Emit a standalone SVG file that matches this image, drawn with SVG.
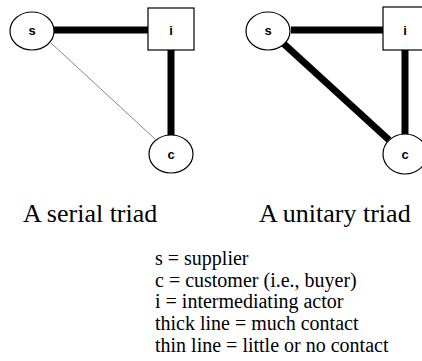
<svg xmlns="http://www.w3.org/2000/svg" width="422" height="361" viewBox="0 0 422 361">
  <style>
    .node { fill: #fff; stroke: #000; stroke-width: 1.2; }
    .lbl { font-family: "Liberation Sans", Arial, sans-serif; font-weight: bold; font-size: 13px; text-anchor: middle; fill: #000; }
    .thick { stroke: #000; stroke-width: 7; fill: none; }
    .thin { stroke: #888; stroke-width: 1; fill: none; }
    .cap { font-family: 'Liberation Serif', 'Times New Roman', 'DejaVu Serif', serif; font-size: 26px; fill: #000; }
    .key { font-family: 'Liberation Serif', 'Times New Roman', 'DejaVu Serif', serif; font-size: 20px; fill: #000; }
  </style>

  <!-- connectors -->
  <g id="connectors">
    <!-- serial triad -->
    <line class="thick" x1="54" y1="30" x2="148" y2="30"/>
    <line class="thick" x1="171" y1="50" x2="171" y2="136"/>
    <line class="thin" x1="51" y1="43" x2="155" y2="139"/>
    <!-- unitary triad -->
    <line class="thick" x1="291" y1="30" x2="383" y2="30"/>
    <line class="thick" x1="405" y1="50" x2="405" y2="135"/>
    <line class="thick" x1="284" y1="44" x2="389" y2="140"/>
  </g>

  <!-- serial triad nodes -->
  <g id="serial-s">
    <ellipse class="node" cx="32" cy="31" rx="22" ry="19"/>
    <text class="lbl" x="32" y="35">s</text>
  </g>
  <g id="serial-i">
    <rect class="node" x="148" y="8" width="46" height="42"/>
    <text class="lbl" x="171" y="35">i</text>
  </g>
  <g id="serial-c">
    <ellipse class="node" cx="171" cy="154" rx="22" ry="19"/>
    <text class="lbl" x="171" y="159">c</text>
  </g>

  <!-- unitary triad nodes -->
  <g id="unitary-s">
    <ellipse class="node" cx="268" cy="31" rx="22" ry="19"/>
    <text class="lbl" x="268" y="35">s</text>
  </g>
  <g id="unitary-i">
    <rect class="node" x="383" y="7" width="46" height="43"/>
    <text class="lbl" x="405" y="35">i</text>
  </g>
  <g id="unitary-c">
    <ellipse class="node" cx="405" cy="154" rx="22" ry="20"/>
    <text class="lbl" x="405" y="159">c</text>
  </g>

  <!-- captions -->
  <text class="cap" x="23" y="222">A serial triad</text>
  <text class="cap" x="259" y="222">A unitary triad</text>

  <!-- key -->
  <g id="key">
    <text class="key" x="155" y="265">s = supplier</text>
    <text class="key" x="155" y="287">c = customer (i.e., buyer)</text>
    <text class="key" x="155" y="308">i = intermediating actor</text>
    <text class="key" x="155" y="330">thick line = much contact</text>
    <text class="key" x="155" y="352">thin line = little or no contact</text>
  </g>
</svg>
